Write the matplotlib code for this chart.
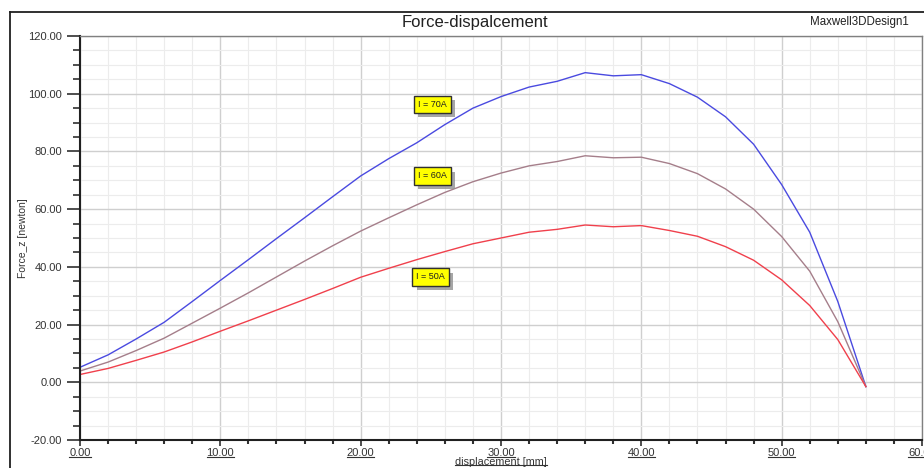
import matplotlib
matplotlib.use("Agg")
from matplotlib import pyplot as plt
from matplotlib.ticker import MultipleLocator, FormatStrFormatter
from matplotlib.lines import Line2D
import matplotlib.patheffects as pe

plt.rcParams['font.family'] = ['Liberation Sans', 'DejaVu Sans']

# displacement [mm]
disp = [0, 2, 4, 6, 8, 10, 12, 14, 16, 18, 20, 22, 24, 26, 28,
        30, 32, 34, 36, 38, 40, 42, 44, 46, 48, 50, 52, 54, 56]

# Force_z [newton] for each current
force_70 = [5.2, 9.5, 15.0, 20.8, 28.0, 35.3, 42.5, 49.8, 57.0, 64.3, 71.5, 77.5, 83.0, 89.3, 95.0,
            99.0, 102.3, 104.3, 107.3, 106.2, 106.6, 103.5, 98.8, 92.0, 82.5, 68.5, 52.0, 28.0, -1.5]
force_60 = [3.9, 7.0, 11.0, 15.3, 20.5, 25.7, 31.0, 36.5, 42.0, 47.3, 52.4, 57.0, 61.5, 65.8, 69.5,
            72.5, 75.0, 76.5, 78.5, 77.8, 78.0, 75.8, 72.3, 67.0, 60.0, 50.5, 38.5, 21.0, -1.5]
force_50 = [2.7, 4.8, 7.6, 10.5, 14.0, 17.7, 21.3, 25.0, 28.7, 32.5, 36.4, 39.5, 42.5, 45.3, 48.0,
            50.0, 52.0, 53.0, 54.5, 53.9, 54.3, 52.6, 50.6, 47.0, 42.3, 35.5, 26.6, 14.8, -1.5]

series = [
    ("I = 70A", force_70, "#4a4ae0", (25.1, 96.2)),
    ("I = 60A", force_60, "#a57e8a", (25.1, 71.5)),
    ("I = 50A", force_50, "#f0404c", (25.0, 36.5)),
]

TXT = '#333333'
W, H = 924, 468
PX = 72 / 100  # points per pixel
fig = plt.figure(figsize=(W / 100, H / 100), dpi=100)
ax = fig.add_axes([80 / W, (H - 440) / H, (922 - 80) / W, (440 - 36) / H])

for name, vals, col, pos in series:
    ax.plot(disp, vals, color=col, lw=1.0)
    # yellow label with a grey drop shadow
    t = ax.annotate(name, xy=pos, ha='center', va='center', fontsize=6.5, color='#202020',
                    bbox=dict(boxstyle='square,pad=0.45', fc='#ffff00', ec='#303030', lw=1.0))
    t.get_bbox_patch().set_path_effects([
        pe.SimplePatchShadow(offset=(3, -3), shadow_rgbFace='#909090', alpha=0.8),
        pe.Normal()])

ax.set_xlim(0, 60)
ax.set_ylim(-20, 120)
ax.xaxis.set_major_locator(MultipleLocator(10))
ax.xaxis.set_minor_locator(MultipleLocator(2))
ax.yaxis.set_major_locator(MultipleLocator(20))
ax.yaxis.set_minor_locator(MultipleLocator(5))
ax.xaxis.set_major_formatter(FormatStrFormatter('%.2f'))
ax.yaxis.set_major_formatter(FormatStrFormatter('%.2f'))

ax.grid(which='major', color='#cfcfcf', lw=1.0)
ax.grid(which='minor', color='#ececec', lw=0.8)
ax.set_axisbelow(True)

ax.tick_params(axis='y', which='major', length=13 * PX, width=1.2, color='#303030',
               labelsize=8, labelcolor=TXT, pad=5 * PX)
ax.tick_params(axis='y', which='minor', length=7 * PX, width=1.2, color='#303030')
ax.tick_params(axis='x', which='major', length=6 * PX, width=1.2, color='#303030',
               labelsize=8, labelcolor=TXT, pad=2 * PX)
ax.tick_params(axis='x', which='minor', length=4 * PX, width=1.5, color='#303030')

for s in ['left', 'bottom']:
    ax.spines[s].set_color('#202020')
    ax.spines[s].set_linewidth(1.5)
for s in ['top', 'right']:
    ax.spines[s].set_color('#808080')
    ax.spines[s].set_linewidth(1.0)

ax.set_xlabel('displacement [mm]', fontsize=7.8, color=TXT, labelpad=-1)
ax.set_ylabel('Force_z [newton]', fontsize=7.5, color=TXT, labelpad=0)

# header
fig.text(475 / W, 1 - 22 / H, 'Force-dispalcement', fontsize=12, color='#202020',
         ha='center', va='center')
fig.text(810 / W, 1 - 22 / H, 'Maxwell3DDesign1', fontsize=8.3, color='#202020',
         ha='left', va='center')

# outer frame
fig.add_artist(Line2D([10 / W, 10 / W], [0, 1 - 12 / H], color='#202020', lw=1.3))
fig.add_artist(Line2D([10 / W, 1], [1 - 12 / H, 1 - 12 / H], color='#202020', lw=1.3))

# underline x tick labels and x label
fig.canvas.draw()
r = fig.canvas.get_renderer()
texts = [t for t in ax.get_xticklabels() if t.get_visible() and t.get_text()]
texts.append(ax.xaxis.label)
for t in texts:
    bb = t.get_window_extent(renderer=r)
    x1 = min(bb.x1, W)
    yy = (bb.y0 + 1.5) / H
    fig.add_artist(Line2D([bb.x0 / W, x1 / W], [yy, yy], color=TXT, lw=0.8))

fig.savefig('out.png', dpi=100)
